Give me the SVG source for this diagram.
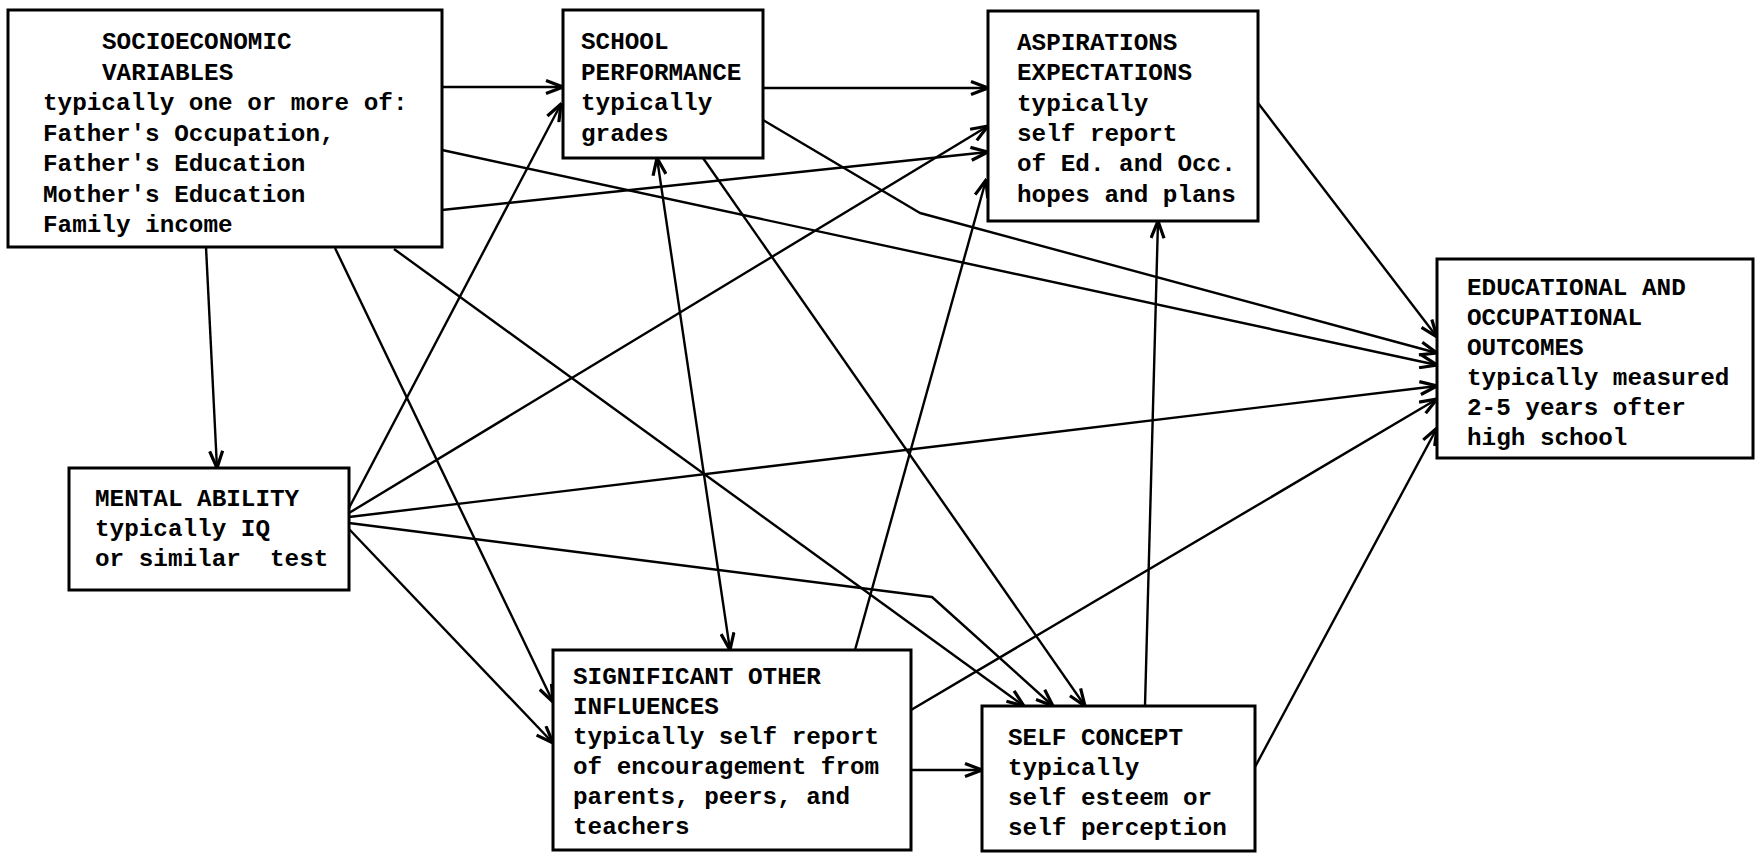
<svg xmlns="http://www.w3.org/2000/svg" width="1758" height="853" viewBox="0 0 1758 853">
<defs>
<style>
.box{fill:#fff;stroke:#000;stroke-width:3}
.t{font-family:"Liberation Mono","DejaVu Sans Mono",monospace;font-size:24.3px;font-weight:bold;fill:#000;white-space:pre}
.c{fill:none;stroke:#000;stroke-width:2.4;stroke-linejoin:round;marker-end:url(#ah)}
.bi{marker-start:url(#ah)}
</style>
<marker id="ah" viewBox="0 0 20 16" refX="18.5" refY="8" markerWidth="20" markerHeight="16" markerUnits="userSpaceOnUse" orient="auto-start-reverse">
<path d="M1.5,1.5 L18.5,8 L1.5,14.5" fill="none" stroke="#000" stroke-width="3.2" stroke-linejoin="miter"/>
</marker>
</defs>
<rect width="1758" height="853" fill="#fff"/>
<g id="connectors">
<path class="c" d="M442,87 L563,87"/>
<path class="c" d="M763,88 L988,88"/>
<path class="c" d="M206,247 L217,468"/>
<path class="c" d="M442,210 L988,152"/>
<path class="c" d="M442,150 L1437,365"/>
<path class="c" d="M763,120 L920,213 L1437,353"/>
<path class="c" d="M1258,103 L1437,337"/>
<path class="c" d="M349,508 L561,104"/>
<path class="c" d="M349,513 L988,126"/>
<path class="c" d="M349,517 L1437,386"/>
<path class="c" d="M349,523 L932,597 L1053,706"/>
<path class="c" d="M349,529 L553,743"/>
<path class="c" d="M335,248 L553,702"/>
<path class="c" d="M394,249 L1024,706"/>
<path class="c" d="M703,158 L1085,706"/>
<path class="c bi" d="M657,158 L730,650"/>
<path class="c" d="M855,650 L986,180"/>
<path class="c" d="M911,770 L982,770"/>
<path class="c" d="M911,710 L1437,399"/>
<path class="c" d="M1145,706 L1158,221"/>
<path class="c" d="M1255,767 L1437,428"/>
</g>
<g id="ses">
<rect class="box" x="8" y="10" width="434" height="237"/>
<text class="t"><tspan x="102" y="49">SOCIOECONOMIC</tspan><tspan x="102" y="79.5">VARIABLES</tspan><tspan x="43" y="110">typically one or more of:</tspan><tspan x="43" y="140.5">Father's Occupation,</tspan><tspan x="43" y="171">Father's Education</tspan><tspan x="43" y="201.5">Mother's Education</tspan><tspan x="43" y="232">Family income</tspan></text>
</g>
<g id="school">
<rect class="box" x="563" y="10" width="200" height="148"/>
<text class="t"><tspan x="581" y="49">SCHOOL</tspan><tspan x="581" y="79.5">PERFORMANCE</tspan><tspan x="581" y="110">typically</tspan><tspan x="581" y="140.5">grades</tspan></text>
</g>
<g id="aspirations">
<rect class="box" x="988" y="11" width="270" height="210"/>
<text class="t"><tspan x="1017" y="50">ASPIRATIONS</tspan><tspan x="1017" y="80.3">EXPECTATIONS</tspan><tspan x="1017" y="110.6">typically</tspan><tspan x="1017" y="141">self report</tspan><tspan x="1017" y="171.3">of Ed. and Occ.</tspan><tspan x="1017" y="201.6">hopes and plans</tspan></text>
</g>
<g id="outcomes">
<rect class="box" x="1437" y="259" width="316" height="199"/>
<text class="t"><tspan x="1467" y="295">EDUCATIONAL AND</tspan><tspan x="1467" y="325">OCCUPATIONAL</tspan><tspan x="1467" y="355">OUTCOMES</tspan><tspan x="1467" y="385">typically measured</tspan><tspan x="1467" y="415">2-5 years ofter</tspan><tspan x="1467" y="445">high school</tspan></text>
</g>
<g id="mental">
<rect class="box" x="69" y="468" width="280" height="122"/>
<text class="t"><tspan x="95" y="506">MENTAL ABILITY</tspan><tspan x="95" y="536">typically IQ</tspan><tspan x="95" y="566">or similar  test</tspan></text>
</g>
<g id="significant">
<rect class="box" x="553" y="650" width="358" height="200"/>
<text class="t"><tspan x="573" y="684">SIGNIFICANT OTHER</tspan><tspan x="573" y="714">INFLUENCES</tspan><tspan x="573" y="744">typically self report</tspan><tspan x="573" y="774">of encouragement from</tspan><tspan x="573" y="804">parents, peers, and</tspan><tspan x="573" y="834">teachers</tspan></text>
</g>
<g id="selfconcept">
<rect class="box" x="982" y="706" width="273" height="145"/>
<text class="t"><tspan x="1008" y="745">SELF CONCEPT</tspan><tspan x="1008" y="775">typically</tspan><tspan x="1008" y="805">self esteem or</tspan><tspan x="1008" y="835">self perception</tspan></text>
</g>
</svg>
